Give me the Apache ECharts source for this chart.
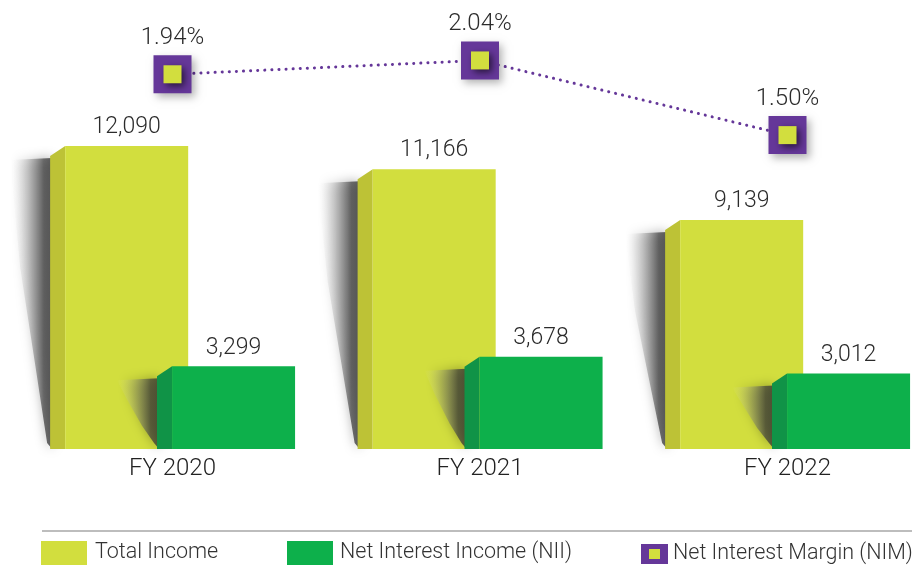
<!DOCTYPE html>
<html>
<head>
<meta charset="utf-8">
<script src="https://cdn.jsdelivr.net/npm/echarts@6/dist/echarts.min.js"></script>
<style>
	html, body { margin: 0; padding: 0; background: #fff; }
	#chart { width: 912px; height: 569px; }
</style>
</head>
<body>
<div id="chart"></div>
<script>
	var categories = ['FY 2020', 'FY 2021', 'FY 2022'];
	var totalIncome = [12090, 11166, 9139];
	var netInterestIncome = [3299, 3678, 3012];
	var nim = [1.94, 2.04, 1.50];

	var YELLOW = '#D2DE3E', YELLOW_SIDE = '#BDC236';
	var GREEN = '#0DB04B', GREEN_SIDE = '#109347';
	var PURPLE = '#653799';
	var FONT = 'Roboto';

	//图例图标 (NIM)
	var nimIcon = 'image://data:image/svg+xml;utf8,' + encodeURIComponent(
		'<svg xmlns="http://www.w3.org/2000/svg" width="27" height="20" viewBox="0 0 27 20">' +
		'<rect width="27" height="20" fill="' + PURPLE + '"/>' +
		'<rect x="8" y="5" width="11" height="10" fill="' + YELLOW + '"/></svg>');

	//3D柱子
	function barRenderer(leftRatio, front, side){
		return function(params, api){
			var idx = api.value(0), val = api.value(1);
			var top = api.coord([idx, val]), base = api.coord([idx, 0]);
			var band = api.size([1, 0])[0];
			var t = top[1], b = base[1], h = b - t;
			var sideL = top[0] + band * leftRatio;
			var sideR = sideL + band * 0.049;
			var frontR = sideR + band * 0.4;
			return {
				type: 'group',
				children: [
					{
						type: 'polygon',
						shape: { points: [
							[sideL + 2, t + 12], [sideL - 40, t + 14], [sideL - 30, t + 0.4 * h],
							[sideL - 15, t + 0.72 * h], [sideL - 3, b - 6], [sideL + 2, b]
						]},
						style: {
							fill: { type: 'linear', x: 0, y: 0, x2: 1, y2: 0, colorStops: [
								{ offset: 0, color: 'rgba(255,255,255,0)' },
								{ offset: 0.4, color: 'rgba(140,140,140,0.3)' },
								{ offset: 0.8, color: 'rgba(60,60,60,0.7)' },
								{ offset: 1, color: 'rgba(50,50,50,0.78)' }
							]},
							shadowColor: 'rgba(0,0,0,0.45)', shadowBlur: 12
						}
					},
					{
						type: 'polygon',
						shape: { points: [[sideL, t + 10], [sideR, t], [sideR, b], [sideL, b]] },
						style: { fill: side }
					},
					{
						type: 'rect',
						shape: { x: sideR, y: t, width: frontR - sideR, height: b - t },
						style: { fill: front }
					},
					{
						type: 'text',
						style: {
							text: val.toLocaleString('en-US'),
							x: (sideR + frontR) / 2, y: t - 7,
							align: 'center', verticalAlign: 'bottom',
							fontSize: 23, fontFamily: FONT, fontWeight: 300, fill: '#2b2b2b'
						}
					}
				]
			};
		};
	}

	var option = {
		animation: false,
		grid: { left: 18.75, width: 922.5, top: 48, height: 401, outerBoundsMode: 'none' },
		xAxis: {
			type: 'category',
			data: categories,
			axisLine: { show: false },
			axisTick: { show: false },
			axisLabel: { margin: 8, fontSize: 24, fontFamily: FONT, fontWeight: 300, color: '#222' }
		},
		yAxis: [
			{ type: 'value', min: 0, max: 16000, show: false },
			{ type: 'value', min: -0.77, max: 2.13, show: false }
		],
		legend: [
			{
				left: 41, top: 541, padding: 0, itemWidth: 46, itemHeight: 24, selectedMode: false,
				data: [{ name: 'Total Income', icon: 'rect' }],
				textStyle: { fontSize: 21.5, fontFamily: FONT, fontWeight: 300, color: '#333', padding: [0, 0, 0, 3] }
			},
			{
				left: 287, top: 541, padding: 0, itemWidth: 46, itemHeight: 24, selectedMode: false,
				data: [{ name: 'Net Interest Income (NII)', icon: 'rect' }],
				textStyle: { fontSize: 21.5, fontFamily: FONT, fontWeight: 300, color: '#333', padding: [0, 0, 0, 2] }
			},
			{
				left: 641, top: 543, padding: 0, itemWidth: 27, itemHeight: 20, selectedMode: false,
				data: [{ name: 'Net Interest Margin (NIM)', icon: nimIcon }],
				textStyle: { fontSize: 21.5, fontFamily: FONT, fontWeight: 300, color: '#333' }
			}
		],
		graphic: [
			{ type: 'line', shape: { x1: 42, y1: 531, x2: 912, y2: 531 }, style: { stroke: '#bdbdbd', lineWidth: 2 } }
		],
		series: [
			{
				name: 'Total Income',
				type: 'custom',
				itemStyle: { color: YELLOW },
				renderItem: barRenderer(-0.398, YELLOW, YELLOW_SIDE),
				data: totalIncome.map(function(v, i){ return [i, v]; })
			},
			{
				name: 'Net Interest Income (NII)',
				type: 'custom',
				itemStyle: { color: GREEN },
				renderItem: barRenderer(-0.0504, GREEN, GREEN_SIDE),
				data: netInterestIncome.map(function(v, i){ return [i, v]; })
			},
			{
				name: 'Net Interest Margin (NIM)',
				type: 'line',
				yAxisIndex: 1,
				z: 5,
				symbol: 'rect',
				symbolSize: 38,
				itemStyle: { color: PURPLE, shadowColor: 'rgba(0,0,0,0.3)', shadowBlur: 8, shadowOffsetX: 3, shadowOffsetY: 4 },
				lineStyle: { color: PURPLE, width: 3, type: [0.1, 7], cap: 'round' },
				label: {
					show: true, position: 'top', distance: 5,
					fontSize: 24, fontFamily: FONT, fontWeight: 300, color: '#2b2b2b',
					formatter: function(p){ return p.value.toFixed(2) + '%'; }
				},
				data: nim
			},
			{
				type: 'scatter',
				yAxisIndex: 1,
				z: 6,
				silent: true,
				symbol: 'rect',
				symbolSize: 18,
				itemStyle: { color: YELLOW, opacity: 1, shadowColor: 'rgba(0,0,0,0.6)', shadowBlur: 7, shadowOffsetX: 3, shadowOffsetY: 3 },
				data: nim
			}
		]
	};
	echarts.init(document.getElementById('chart')).setOption(option);
</script>
</body>
</html>
